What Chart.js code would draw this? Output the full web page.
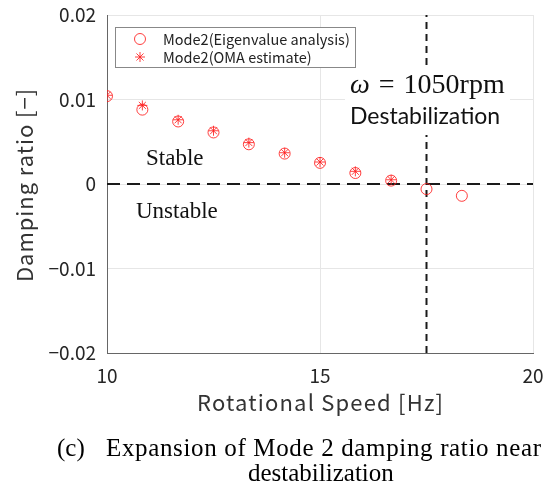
<!DOCTYPE html>
<html><head><meta charset="utf-8">
<script src="https://cdn.jsdelivr.net/npm/chart.js@4.4.0/dist/chart.umd.min.js"></script>
<style>html,body{margin:0;padding:0;background:#fff;} #wrap{width:550px;height:494px;position:relative;}</style>
</head><body><div id="wrap"><canvas id="c" width="550" height="494"></canvas></div>
<script>
const speedHz = [10, 10.83, 11.67, 12.5, 13.33, 14.17, 15, 15.83, 16.67, 17.5, 18.33];
const eigenDamping = [0.0104, 0.0088, 0.0074, 0.0061, 0.0047, 0.0036, 0.0025, 0.0013, 0.0004, -0.0006, -0.0014];
const omaSpeedHz = [10, 10.83, 11.67, 12.5, 13.33, 14.17, 15, 15.83, 16.67];
const omaDamping = [0.0105, 0.0093, 0.0076, 0.0063, 0.0049, 0.0037, 0.0026, 0.0015, 0.0005];
const xTicks = [10, 15, 20];
const yTicks = [-0.02, -0.01, 0, 0.01, 0.02];
const yTickLabels = ['\u22120.02', '\u22120.01', '0', '0.01', '0.02'];
const destabSpeedHz = 17.5;
const seriesLabels = ['Mode2(Eigenvalue analysis)', 'Mode2(OMA estimate)'];
const xTitle = 'Rotational Speed [Hz]';
const yTitle = 'Damping ratio [\u2212]';

const RED = 'rgba(255,30,30,0.85)';
const sansFont = "'Noto Sans CJK JP', 'Noto Sans', sans-serif";

function fitText(ctx, text, x, y, targetWidth) {
  const w = ctx.measureText(text).width;
  const n = Math.max(text.length - 1, 1);
  const ls = (targetWidth - w) / n;
  if ('letterSpacing' in ctx) {
    ctx.letterSpacing = ls.toFixed(2) + 'px';
    ctx.fillText(text, x, y);
    ctx.letterSpacing = '0px';
  } else {
    ctx.fillText(text, x, y);
  }
}

const overlay = {
  id: 'overlay',
  afterDatasetsDraw(chart) {
    const {ctx} = chart;
    ctx.save();
    ctx.textBaseline = 'alphabetic';
    ctx.textAlign = 'left';

    // axis titles
    ctx.fillStyle = '#333';
    ctx.font = "22px " + sansFont;
    fitText(ctx, xTitle, 197, 411, 246);
    ctx.save();
    ctx.translate(33, 282);
    ctx.rotate(-Math.PI / 2);
    fitText(ctx, yTitle, 0, 0, 193);
    ctx.restore();

    // white box behind annotation
    ctx.fillStyle = '#fff';
    ctx.fillRect(345, 65, 165, 70);
    ctx.fillStyle = '#111';
    ctx.textBaseline = 'middle';
    ctx.font = "italic 28px 'Liberation Serif', serif";
    ctx.fillText('\u03c9', 350, 86);
    let cx = 350 + ctx.measureText('\u03c9').width + 9;
    ctx.font = "28px 'Liberation Serif', serif";
    ctx.fillText('=', cx, 86);
    cx += ctx.measureText('=').width + 9;
    ctx.fillText('1050rpm', cx, 86);
    ctx.font = "23px Lato, 'Liberation Sans', sans-serif";
    ctx.fillText('Destabilization', 350, 117);
    ctx.font = "23px 'Liberation Serif', serif";
    ctx.fillText('Stable', 146, 159);
    ctx.fillText('Unstable', 136, 212);

    // legend
    ctx.fillStyle = '#fff';
    ctx.fillRect(115, 27, 240, 40);
    ctx.strokeStyle = '#888';
    ctx.lineWidth = 1;
    ctx.strokeRect(115.5, 27.5, 240, 40);
    ctx.strokeStyle = RED;
    ctx.fillStyle = RED;
    ctx.beginPath(); ctx.arc(140, 39, 5.5, 0, Math.PI * 2); ctx.stroke();
    Chart.helpers.drawPoint(ctx, {pointStyle: 'star', radius: 5, rotation: 0, borderWidth: 1}, 140, 57);
    ctx.fillStyle = '#222';
    ctx.font = "14.5px " + sansFont;
    ctx.fillText(seriesLabels[0], 163, 39);
    ctx.fillText(seriesLabels[1], 163, 57);

    // caption
    ctx.textBaseline = 'alphabetic';
    ctx.font = "25px 'Liberation Serif', serif";
    ctx.fillStyle = '#000';
    ctx.fillText('(c)', 57, 456);
    fitText(ctx, 'Expansion of Mode 2 damping ratio near', 106, 456, 435);
    ctx.fillText('destabilization', 248, 481);
    ctx.restore();
  }
};

new Chart(document.getElementById('c'), {
  type: 'scatter',
  data: {
    datasets: [
      {
        label: 'zero', type: 'line', data: [{x: 10, y: 0}, {x: 20, y: 0}],
        borderColor: '#1a1a1a', borderWidth: 2, borderDash: [13, 7], pointRadius: 0, order: 3
      },
      {
        label: 'destab', type: 'line', data: [{x: destabSpeedHz, y: -0.02}, {x: destabSpeedHz, y: 0.02}],
        borderColor: '#1a1a1a', borderWidth: 2, borderDash: [7, 5], pointRadius: 0, order: 3
      },
      {
        label: seriesLabels[0], data: speedHz.map((v, i) => ({x: v, y: eigenDamping[i]})),
        pointStyle: 'circle', pointRadius: 5.5, borderColor: RED, backgroundColor: 'rgba(0,0,0,0)', borderWidth: 1, order: 2
      },
      {
        label: seriesLabels[1], data: omaSpeedHz.map((v, i) => ({x: v, y: omaDamping[i]})),
        pointStyle: 'star', pointRadius: 5, borderColor: RED, backgroundColor: RED, borderWidth: 1, order: 1
      }
    ]
  },
  options: {
    responsive: false, animation: false,
    layout: {padding: {left: 0, right: 17, top: 15, bottom: 71}},
    plugins: {legend: {display: false}, tooltip: {enabled: false}},
    scales: {
      x: {
        type: 'linear', min: 10, max: 20,
        afterBuildTicks: s => { s.ticks = xTicks.map(v => ({value: v})); },
        afterFit: s => { s.height = 70; s.paddingLeft = 0; s.paddingRight = 0; },
        grid: {color: '#e6e6e6', drawTicks: false},
        border: {color: '#666', width: 1},
        ticks: {padding: 11, color: '#262626', font: {family: sansFont, size: 19}, maxRotation: 0},
        title: {display: false}
      },
      y: {
        type: 'linear', min: -0.02, max: 0.02,
        afterBuildTicks: s => { s.ticks = yTicks.map(v => ({value: v})); },
        afterFit: s => { s.width = 107; s.paddingTop = 0; s.paddingBottom = 0; },
        grid: {color: '#e6e6e6', drawTicks: false},
        border: {color: '#666', width: 1},
        ticks: {padding: 11, color: '#262626', font: {family: sansFont, size: 19},
          callback: (v) => { const i = yTicks.findIndex(t => Math.abs(t - v) < 1e-9); return i >= 0 ? yTickLabels[i] : ''; }},
        title: {display: false}
      }
    }
  },
  plugins: [overlay]
});
</script></body></html>
